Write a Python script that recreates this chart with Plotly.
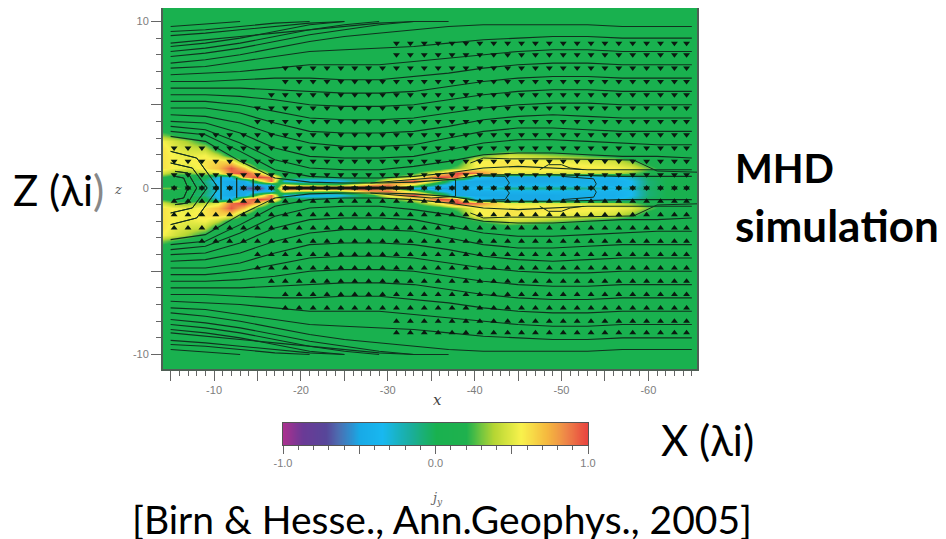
import plotly.graph_objects as go

PAGE_W, PAGE_H = 946, 539
BODY = 8  # the page body's own margin
W, H = PAGE_W - BODY, PAGE_H - BODY

# Current density jy, read by eye. Rows are |z|, columns are -x. Field is close to mirror-symmetric about z=0.
jy_x = [4.1, 5.5, 7, 9, 10.5, 12, 13.5, 15, 16.5, 18, 20, 24, 28, 30, 33, 36, 38, 40, 44, 48, 52, 56, 58, 60, 62, 65.6]
jy_z = [0, 0.2, 0.4, 0.65, 0.9, 1.2, 1.6, 2.0, 2.4, 2.8, 3.2, 3.8, 10.9]
jy_rows = [
    [.3, .3, .1, -.1, -.3, -.45, -.6, -.8, -.3, .9, 1, 1, 1, .6, -.4, -.55, -.5, -.35, -.12, -.12, -.12, -.3, -.25, -.05, 0, 0],
    [.1, .1, 0, -.05, -.35, -.5, -.5, -.5, -.4, .6, .4, .3, .8, .9, .4, -.3, -.5, -.45, -.42, -.4, -.4, -.42, -.35, -.08, 0, 0],
    [.1, .05, 0, -.1, -.4, -.5, -.5, .3, .9, -.3, -.45, -.4, .1, .6, 1, .3, -.5, -.5, -.5, -.5, -.45, -.45, -.35, -.08, 0, 0],
    [.2, .1, .05, .05, -.3, -.3, .8, 1, .9, .1, 0, 0, 0, .2, .5, 1, .9, -.3, -.5, -.5, -.45, -.4, -.25, -.03, 0, 0],
    [.45, .3, .3, .4, .5, .9, 1, .7, .2, 0, 0, 0, 0, 0, .2, .6, 1, .9, .5, .5, .45, .4, .3, .15, .05, 0],
    [.6, .55, .5, .6, .7, .95, .7, .2, 0, 0, 0, 0, 0, 0, 0, .1, .3, .55, .6, .6, .6, .55, .5, .3, .1, 0],
    [.6, .55, .55, .6, .65, .6, .2, 0, 0, 0, 0, 0, 0, 0, 0, 0, .1, .55, .6, .55, .5, .45, .3, .1, 0, 0],
    [.6, .55, .5, .55, .4, .1, 0, 0, 0, 0, 0, 0, 0, 0, 0, 0, 0, .2, .45, .35, .25, .1, 0, 0, 0, 0],
    [.6, .5, .45, .4, .1, 0, 0, 0, 0, 0, 0, 0, 0, 0, 0, 0, 0, 0, .05, 0, 0, 0, 0, 0, 0, 0],
    [.55, .45, .35, .15, 0, 0, 0, 0, 0, 0, 0, 0, 0, 0, 0, 0, 0, 0, 0, 0, 0, 0, 0, 0, 0, 0],
    [.3, .2, .1, 0, 0, 0, 0, 0, 0, 0, 0, 0, 0, 0, 0, 0, 0, 0, 0, 0, 0, 0, 0, 0, 0, 0],
    [0] * 26,
    [0] * 26,
]

# Field lines (upper half), z at each station; shorter lists leave through the top of the box.
line_x = [5, 9, 13, 17, 21, 25, 29, 33, 37, 41, 45, 49, 53, 57, 61, 65]
line_z = [
    [3.1, 2.8, 1.6, .6, .35, .3, .3, .35, .5, .8, .8, .8, .75, .7, .7, .7],
    [3.4, 3.2, 2.2, 1.1, .7, .6, .6, .7, .9, 1.2, 1.3, 1.2, 1.1, 1.1, 1.1, 1.1],
    [3.7, 3.5, 2.7, 1.7, 1.2, 1.1, 1.1, 1.3, 1.6, 2.0, 2.1, 2.1, 2.0, 1.9, 1.9, 1.8],
    [4.0, 3.9, 3.3, 2.4, 1.9, 1.8, 1.8, 1.9, 2.3, 2.7, 2.9, 2.9, 2.8, 2.7, 2.6, 2.6],
    [4.4, 4.3, 3.9, 3.2, 2.7, 2.5, 2.5, 2.6, 3.0, 3.4, 3.6, 3.6, 3.5, 3.4, 3.4, 3.4],
    [4.8, 4.8, 4.5, 3.9, 3.4, 3.3, 3.3, 3.4, 3.7, 4.1, 4.3, 4.4, 4.3, 4.2, 4.2, 4.2],
    [5.2, 5.2, 5.0, 4.6, 4.2, 4.1, 4.1, 4.2, 4.5, 4.8, 5.0, 5.1, 5.1, 5.0, 5.0, 5.0],
    [5.6, 5.6, 5.5, 5.3, 5.0, 4.9, 4.9, 5.0, 5.3, 5.6, 5.8, 5.9, 5.9, 5.8, 5.8, 5.8],
    [6.0, 6.0, 6.0, 5.9, 5.8, 5.7, 5.7, 5.8, 6.1, 6.4, 6.6, 6.7, 6.7, 6.6, 6.6, 6.6],
    [6.4, 6.4, 6.5, 6.6, 6.6, 6.5, 6.5, 6.7, 6.9, 7.2, 7.4, 7.5, 7.5, 7.4, 7.4, 7.4],
    [6.8, 6.9, 7.0, 7.2, 7.4, 7.4, 7.4, 7.6, 7.8, 8.0, 8.2, 8.3, 8.3, 8.2, 8.2, 8.2],
    [7.2, 7.3, 7.6, 7.9, 8.2, 8.3, 8.4, 8.5, 8.7, 8.9, 9.0, 9.1, 9.1, 9.0, 9.0, 9.0],
    [7.5, 7.7, 8.0, 8.4, 8.8, 9.1, 9.3, 9.5, 9.7, 9.8, 9.8, 9.8, 9.8, 9.7, 9.7, 9.7],
    [7.9, 8.1, 8.4, 8.8, 9.2, 9.5, 9.8, 10, 10],
    [8.2, 8.4, 8.7, 9.1, 9.5, 9.8, 10],
    [8.5, 8.7, 9.0, 9.4, 9.8, 10],
    [8.7, 8.9, 9.1, 9.3, 9.5, 9.7, 9.9, 10],
    [9.15, 9.3, 9.5, 9.7, 9.9, 10],
    [9.4, 9.5, 9.7, 9.9, 10],
    [9.7, 9.85, 10],
]

# Arrow grid: columns, rows, and where each row starts
arrow_x = [5.4, 7, 8.6, 10.2, 11.8, 13.4, 15, 16.6, 18.2, 19.8, 21.4, 23, 24.6, 26.2, 27.8, 29.4, 31, 32.6, 34.2,
           35.8, 37.4, 39, 40.6, 42.2, 43.8, 45.4, 47, 48.6, 50.2, 51.8, 53.4, 55, 56.6, 58.2, 59.8, 61.4, 63, 64.4]
arrow_rows = [0, .8, 1.6, 2.4, 3.2, 4.0, 4.8, 5.6, 6.4, 7.2, 8.0, 8.7]
arrow_start = [5.4, 5.4, 5.4, 5.4, 8, 14, 14, 15.6, 18, 18, 30, 31]

# Dark jy contours (x, z), upper half
contour_x = [
    [39.5, 41, 44, 50, 58.3, 61, 65.6],
    [37.8, 37.8, 35, 28],
    [43.5, 44, 43.5, 40],
    [53.7, 54, 53.7, 50],
    [47.5, 48.5, 50, 51, 52.5],
    [5.5, 6.5, 7, 6.5, 5.5],
    [5.5, 7, 8, 7, 5.5],
    [5, 7.5, 9.2, 7.5, 5],
    [5, 8, 10.5, 8, 5],
    [10.8, 10.8],
    [12.6, 12.6],
    [14.5, 14.5],
]
contour_z = [
    [1.5, 1.8, 1.75, 1.75, 1.68, 1.02, .95],
    [0, .5, .6, .3],
    [0, .3, .7, .75],
    [0, .25, .55, .7],
    [1.1, 1.4, 1.4, 1.2, 1.1],
    [.7, .6, 0, -.6, -.7],
    [1, .9, 0, -.9, -1],
    [1.5, 1.2, 0, -1.2, -1.5],
    [2.2, 1.8, 0, -1.8, -2.2],
    [-.7, .7],
    [-.6, .6],
    [-.55, .55],
]

# Thick black core of the thin current sheet
core_x = [18, 24, 27, 30, 33]
core_z = [0, 0, 0, 0, 0]

colorbar_vals = [-1, -.95, -.9, -.85, -.8, -.75, -.7, -.65, -.6, -.55, -.5, -.45, -.4, -.35, -.3, -.25, -.2, -.15, -.1, -.05,
                 0, .05, .1, .15, .2, .25, .3, .35, .4, .45, .5, .55, .6, .65, .7, .75, .8, .85, .9, .95, 1]
colorscale = [
    [0.0, "#a9318f"], [0.065, "#6a3a96"], [0.14, "#574699"], [0.18, "#4d6cb0"], [0.25, "#18a9e6"],
    [0.325, "#18b8f0"], [0.42, "#1aae9a"], [0.5, "#19b14f"], [0.6, "#1fb14e"], [0.69, "#b6d633"],
    [0.78, "#f8f24c"], [0.865, "#f5b83f"], [0.925, "#ee8748"], [1.0, "#e8413f"],
]

xtick_vals = [-60, -55, -50, -45, -40, -35, -30, -25, -20, -15, -10, -5]
xtick_text = ["-60", "", "-50", "", "-40", "", "-30", "", "-20", "", "-10", ""]
ztick_vals = [-10, -5, 0, 5, 10]
ztick_text = ["-10", "", "0", "", "10"]
cb_ticks = [-1, -.5, 0, .5, 1]
cb_text = ["-1.0", "", "0.0", "", "1.0"]

PLOT_L, PLOT_R, PLOT_T, PLOT_B = 163 - BODY, 697 - BODY, 8 - BODY, 369 - BODY
CB_L, CB_R, CB_T, CB_B = 283 - BODY, 588 - BODY, 423 - BODY, 445 - BODY
TICK_GREY = "#7d7d7d"
TICK_FONT = dict(family="Liberation Sans", size=11, color=TICK_GREY)
LINE = "#10321f"

z_all = [-v for v in reversed(jy_z[1:])] + jy_z
rows_all = list(reversed(jy_rows[1:])) + jy_rows

fig = go.Figure()
fig.add_trace(go.Heatmap(x=[-v for v in jy_x], y=z_all, z=rows_all, zmin=-1, zmax=1, zsmooth="best",
                         colorscale=colorscale, showscale=False, hoverinfo="skip"))

lx, lz = [], []
for row in line_z:
    for sign in (1, -1):
        for xv, zv in zip(line_x, row):
            lx.append(-xv)
            lz.append(sign * zv)
        lx.append(None)
        lz.append(None)
fig.add_trace(go.Scatter(x=lx, y=lz, mode="lines", line=dict(color=LINE, width=1.1), hoverinfo="skip"))

cx, cz = [], []
for xs, zs in zip(contour_x, contour_z):
    for sign in (1, -1):
        for xv, zv in zip(xs, zs):
            cx.append(-xv)
            cz.append(sign * zv)
        cx.append(None)
        cz.append(None)
fig.add_trace(go.Scatter(x=cx, y=cz, mode="lines", line=dict(color="#14301e", width=1), hoverinfo="skip"))
fig.add_trace(go.Scatter(x=[-v for v in core_x], y=core_z, mode="lines", line=dict(color="#1a1410", width=3), hoverinfo="skip"))

for sign, symbol in ((1, "triangle-down"), (-1, "triangle-up")):
    ax, az = [], []
    for zv, start in zip(arrow_rows, arrow_start):
        for xv in arrow_x:
            if xv >= start:
                ax.append(-xv)
                az.append(sign * zv)
    fig.add_trace(go.Scatter(x=ax, y=az, mode="markers", hoverinfo="skip",
                             marker=dict(symbol=symbol, size=6, color="#0a1a10", line=dict(width=0))))

fig.add_trace(go.Heatmap(x=colorbar_vals, y=[0, 1], z=[colorbar_vals, colorbar_vals], zmin=-1, zmax=1, zsmooth="best",
                         colorscale=colorscale, showscale=False, xaxis="x2", yaxis="y2", hoverinfo="skip"))

axis_common = dict(showgrid=False, zeroline=False, mirror=True, showline=True, linecolor="#4f5f55", linewidth=2,
                   ticks="outside", ticklen=10, tickwidth=1, tickcolor="#666666", tickfont=TICK_FONT)
minor = dict(dtick=1, ticks="outside", ticklen=5, tickwidth=1, tickcolor="#666666", showgrid=False)


def text(x, y, s, size=42, weight="normal", color="#000000", family="Lato", anchor="left"):
    return dict(x=(x - BODY) / W, y=1 - (y - BODY) / H, xref="paper", yref="paper", text=s, showarrow=False, xanchor=anchor,
                yanchor="middle", font=dict(family=family, size=size, color=color, weight=weight))


annotations = [
    text(11, 190, 'Z (λi<span style="color:#888888">)</span>'),
    text(733, 168, "MHD", size=40, weight="bold"),
    text(733, 225, "simula\u200ction", size=44, weight="bold"),
    text(659, 440, "X (λi)"),
    text(130, 519, "[Birn &amp; Hesse., Ann.Geophys., 2005]", size=39),
    text(118, 189, "<i>z</i>", size=13, color="#555555", family="DejaVu Serif", anchor="center"),
    text(437, 400, "<i>x</i>", size=15, color="#444444", family="DejaVu Serif", anchor="center"),
    text(436, 498, "<i>j<sub>y</sub></i>", size=13, color="#666666", family="DejaVu Serif", anchor="center"),
]

fig.update_layout(
    width=W, height=H, autosize=False, margin=dict(l=0, r=0, t=0, b=0, autoexpand=False), showlegend=False,
    paper_bgcolor="white", plot_bgcolor="#19b14f", annotations=annotations,
    xaxis=dict(domain=[PLOT_L / W, PLOT_R / W], range=[-4.12, -65.6], tickmode="array", tickvals=xtick_vals,
               ticktext=xtick_text, minor=minor, **axis_common),
    yaxis=dict(domain=[1 - PLOT_B / H, 1 - PLOT_T / H], range=[-10.87, 10.81], tickmode="array", tickvals=ztick_vals,
               ticktext=ztick_text, minor=minor, **axis_common),
    xaxis2=dict(domain=[CB_L / W, CB_R / W], range=[-1, 1], anchor="y2", tickmode="array", tickvals=cb_ticks,
                ticktext=cb_text, showgrid=False, zeroline=False, showline=True, linecolor="#555555", mirror=True,
                ticks="outside", ticklen=8, tickcolor="#666666", tickfont=TICK_FONT,
                minor=dict(dtick=0.1, ticks="outside", ticklen=4, tickcolor="#666666", showgrid=False)),
    yaxis2=dict(domain=[1 - CB_B / H, 1 - CB_T / H], range=[0, 1], anchor="x2", showticklabels=False, ticks="",
                showgrid=False, zeroline=False, showline=True, linecolor="#555555", mirror=True),
)

fig.write_html("out.html")
